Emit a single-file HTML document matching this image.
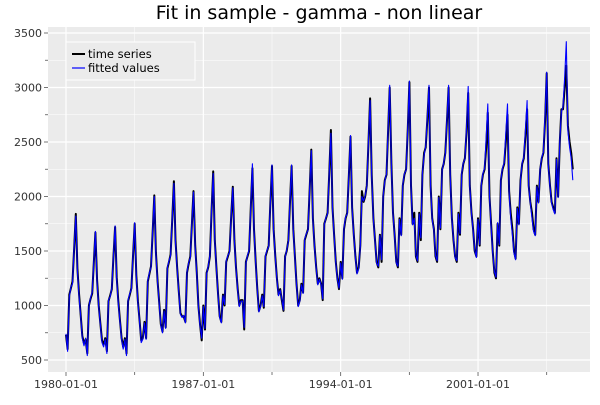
<!DOCTYPE html>
<html><head><meta charset="utf-8"><style>
body{margin:0;background:#fff;font-family:"Liberation Sans","DejaVu Sans",sans-serif}
svg text{font-family:"DejaVu Sans","Liberation Sans",sans-serif}
</style></head><body>
<svg id="chart" width="600" height="400">
<text x="319" y="19" text-anchor="middle" font-size="19">Fit in sample - gamma - non linear</text>
<rect x="48" y="27" width="542" height="345" fill="#ebebeb"/>
<g id="grid"></g><g id="axes"></g><g id="series"></g>
<g>
<rect x="66" y="42" width="129" height="38" fill="#ebebeb" stroke="#fff" stroke-width="1"/>
<line x1="72" y1="54" x2="85" y2="54" stroke="#000" stroke-width="2"/>
<text x="88" y="58" font-size="11.5">time series</text>
<line x1="72" y1="68" x2="85" y2="68" stroke="#00f" stroke-width="1.2"/>
<text x="88" y="72" font-size="11.5">fitted values</text>
</g>
</svg>
<script>
const startYear = 1980;
const yTicks = [500,1000,1500,2000,2500,3000,3500];
const xTickYears = [1980,1987,1994,2001];
const xTickLabels = ["1980-01-01","1987-01-01","1994-01-01","2001-01-01"];
const actual = [
730,600,1100,1160,1220,1530,1840,1340,1100,910,720,650,
690,560,1000,1060,1110,1390,1670,1230,1000,840,680,640,
700,580,1040,1090,1150,1440,1720,1260,1040,860,700,620,
700,560,1040,1100,1160,1450,1750,1280,1040,860,680,700,
850,700,1220,1290,1360,1680,2010,1490,1220,1030,830,760,
960,800,1340,1400,1470,1800,2140,1600,1340,1130,930,900,
900,850,1300,1380,1450,1750,2050,1550,1300,1000,820,680,
1000,780,1300,1350,1450,1850,2230,1600,1350,1100,900,850,
1100,1000,1400,1450,1500,1800,2090,1600,1350,1150,1000,1050,
1050,780,1400,1450,1500,1900,2260,1700,1400,1150,950,1000,
1100,980,1450,1500,1550,1950,2280,1700,1450,1250,1100,1150,
1050,950,1450,1500,1600,1950,2280,1700,1450,1200,1000,1050,
1200,1120,1600,1650,1700,2050,2430,1800,1550,1350,1200,1250,
1200,1050,1750,1800,1850,2200,2610,1900,1650,1400,1250,1150,
1400,1250,1700,1800,1850,2200,2550,1900,1650,1450,1300,1350,
1550,2050,1950,2000,2100,2500,2900,2200,1800,1600,1400,1350,
1650,1400,2000,2150,2200,2600,3000,2300,1850,1650,1400,1350,
1800,1650,2100,2200,2250,2600,3050,2100,1750,1850,1450,1400,
1850,1600,2200,2400,2450,2700,3000,2100,1800,1700,1450,1400,
2000,1700,2250,2300,2400,2700,3000,2200,1800,1600,1450,1400,
1850,1650,2200,2300,2350,2600,2950,2100,1850,1700,1500,1450,
1800,1550,2100,2200,2250,2450,2770,2000,1750,1500,1300,1250,
1750,1550,2150,2250,2300,2500,2750,2050,1850,1700,1500,1430,
1900,1750,2150,2300,2350,2550,2800,2100,1950,1850,1700,1650,
2100,1950,2250,2350,2400,2700,3130,2300,2100,1950,1900,1850,
2350,2000,2500,2800,2800,3000,3200,2650,2500,2400,2250];
const fitted = [
740,580,1080,1170,1200,1550,1820,1320,1080,900,700,630,
700,540,990,1070,1120,1400,1680,1210,990,830,660,620,
690,560,1050,1080,1160,1450,1730,1240,1020,850,690,600,
690,540,1050,1110,1150,1460,1760,1270,1030,850,660,690,
840,690,1230,1300,1350,1700,2000,1470,1210,1020,820,750,
950,790,1350,1410,1460,1810,2120,1580,1330,1120,920,890,
910,840,1310,1390,1440,1760,2040,1530,1290,990,810,700,
990,790,1290,1360,1460,1870,2210,1590,1340,1090,890,840,
1090,1010,1410,1460,1490,1810,2080,1590,1340,1140,990,1040,
1040,800,1390,1460,1510,1920,2300,1690,1390,1140,940,990,
1090,990,1460,1510,1540,1960,2290,1690,1440,1240,1090,1140,
1060,960,1440,1510,1590,1970,2290,1690,1440,1190,990,1040,
1190,1110,1610,1660,1690,2060,2420,1790,1540,1340,1190,1240,
1190,1060,1740,1810,1840,2210,2580,1890,1640,1390,1240,1160,
1390,1240,1710,1810,1840,2210,2560,1890,1640,1440,1290,1340,
1540,2000,1960,2010,2090,2520,2880,2190,1790,1590,1390,1360,
1640,1420,2010,2140,2210,2620,3020,2290,1840,1640,1390,1360,
1790,1640,2110,2210,2240,2620,3060,2090,1740,1800,1460,1410,
1840,1620,2210,2380,2460,2720,3020,2090,1790,1690,1460,1410,
1990,1710,2240,2310,2390,2720,3020,2190,1790,1610,1440,1410,
1840,1660,2210,2310,2340,2640,3010,2090,1840,1690,1510,1440,
1790,1560,2110,2210,2260,2550,2850,2000,1720,1490,1310,1260,
1760,1560,2160,2260,2310,2580,2850,2040,1800,1650,1480,1420,
1890,1740,2160,2310,2360,2600,2880,2090,1940,1800,1680,1640,
2090,1940,2260,2360,2410,2750,3140,2290,2090,1940,1880,1840,
2340,1990,2510,2780,2820,3100,3420,2600,2450,2350,2150];
const NS="http://www.w3.org/2000/svg";
const X0=48,X1=590,Y0=27,Y1=372;
function xs(t){return 66+(t-1980)*19.62;}
function ys(v){return 360-(v-500)*0.109;}
function mk(tag,attrs,parent){const e=document.createElementNS(NS,tag);for(const k in attrs)e.setAttribute(k,attrs[k]);parent.appendChild(e);return e;}
const grid=document.getElementById('grid'),axes=document.getElementById('axes'),ser=document.getElementById('series');
yTicks.forEach((v,i)=>{
  const y=ys(v);
  const l=mk('line',{x1:X0,x2:X1,y1:y,y2:y,stroke:'#fff','stroke-width':1.2},grid);
  
  
  if(i<yTicks.length-1){const ym=ys(v+250);const m=mk('line',{x1:X0,x2:X1,y1:ym,y2:ym,stroke:'#fff','stroke-width':0.5},grid);
  
  
  mk('line',{x1:X0-3,x2:X0,y1:ym,y2:ym,stroke:'#555','stroke-width':0.8},axes);}
  mk('line',{x1:X0-4,x2:X0,y1:y,y2:y,stroke:'#555','stroke-width':0.8},axes);
  const t=mk('text',{x:X0-6,y:y+4,'text-anchor':'end','font-size':11,fill:'#333'},axes);
  t.textContent=v;
  
  
});
xTickYears.forEach((yr,i)=>{
  const x=xs(yr);
  const l=mk('line',{x1:x,x2:x,y1:Y0,y2:Y1,stroke:'#fff','stroke-width':1.2},grid);
  
  
  const xm=xs(yr+3.5);
  const m=mk('line',{x1:xm,x2:xm,y1:Y0,y2:Y1,stroke:'#fff','stroke-width':0.5},grid);
  
  
  mk('line',{x1:xm,x2:xm,y1:Y1,y2:Y1+3,stroke:'#555','stroke-width':0.8},axes);
  mk('line',{x1:x,x2:x,y1:Y1,y2:Y1+4,stroke:'#555','stroke-width':0.8},axes);
  const t=mk('text',{x:x,y:Y1+16,'text-anchor':'middle','font-size':11,fill:'#333'},axes);
  t.textContent=xTickLabels[i];
  
  
});
function path(arr){return arr.map((v,i)=>(i?'L':'M')+xs(startYear+i/12).toFixed(1)+','+ys(v).toFixed(1)).join('');}
const a=mk('path',{d:path(actual),fill:'none',stroke:'#000','stroke-width':2,'stroke-linejoin':'round'},ser);


const f=mk('path',{d:path(fitted),fill:'none',stroke:'#00f','stroke-width':1.1,'stroke-linejoin':'round'},ser);


</script>
</body></html>
